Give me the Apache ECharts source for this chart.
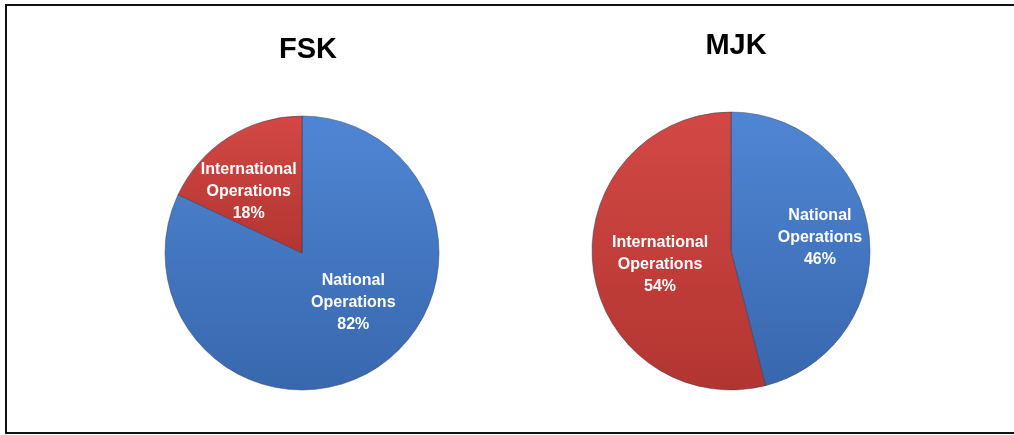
<!DOCTYPE html>
<html>
<head>
<meta charset="UTF-8">
<title>FSK / MJK</title>
<script src="https://cdn.jsdelivr.net/npm/echarts@6/dist/echarts.min.js"></script>
<style>
  html, body { margin: 0; padding: 0; background: #fff; }
  #main { width: 1014px; height: 435px; }
</style>
</head>
<body>
<div id="main"></div>
<script>
// data
var categories = ['National Operations', 'International Operations'];
var fskValues = [82, 18];
var mjkValues = [46, 54];
var titles = ['FSK', 'MJK'];

var chart = echarts.init(document.getElementById('main'));

function grad(top, bottom) {
  return new echarts.graphic.LinearGradient(0, 0, 0, 1, [
    { offset: 0, color: top },
    { offset: 1, color: bottom }
  ]);
}
var fills = [grad('#4f86d4', '#3867ad'), grad('#d34844', '#b23531')];

function items(values, offsets) {
  return categories.map(function (name, i) {
    return {
      name: name,
      value: values[i],
      itemStyle: { color: fills[i] },
      label: { offset: offsets[i] }
    };
  });
}

function pieSeries(center, radius, values, offsets) {
  return {
    type: 'pie',
    center: center,
    radius: radius,
    startAngle: 90,
    clockwise: true,
    animation: false,
    silent: true,
    itemStyle: { borderColor: 'rgba(40,50,80,0.45)', borderWidth: 1 },
    label: {
      position: 'inside',
      color: '#fff',
      fontFamily: 'Liberation Sans',
      fontWeight: 'bold',
      fontSize: 16,
      lineHeight: 22,
      formatter: function (p) {
        return p.name.replace(' ', '\n') + '\n' + p.value + '%';
      }
    },
    labelLine: { show: false },
    data: items(values, offsets)
  };
}

var option = {
  backgroundColor: '#fff',
  title: [
    { text: titles[0], left: 303, top: 30, textAlign: 'center',
      textStyle: { fontFamily: 'Liberation Sans', fontWeight: 'bold', fontSize: 29, color: '#000' } },
    { text: titles[1], left: 731, top: 26, textAlign: 'center',
      textStyle: { fontFamily: 'Liberation Sans', fontWeight: 'bold', fontSize: 29, color: '#000' } }
  ],
  graphic: [
    { type: 'polyline', silent: true,
      shape: { points: [[1020, 5], [6, 5], [6, 433], [1020, 433]] },
      style: { stroke: '#111', lineWidth: 2, fill: null } }
  ],
  series: [
    pieSeries([302, 253], 137, fskValues, [[13, -11], [-15, -1]]),
    pieSeries([731, 251], 139, mjkValues, [[17, -4], [1, 5]])
  ]
};
chart.setOption(option);
</script>
</body>
</html>
